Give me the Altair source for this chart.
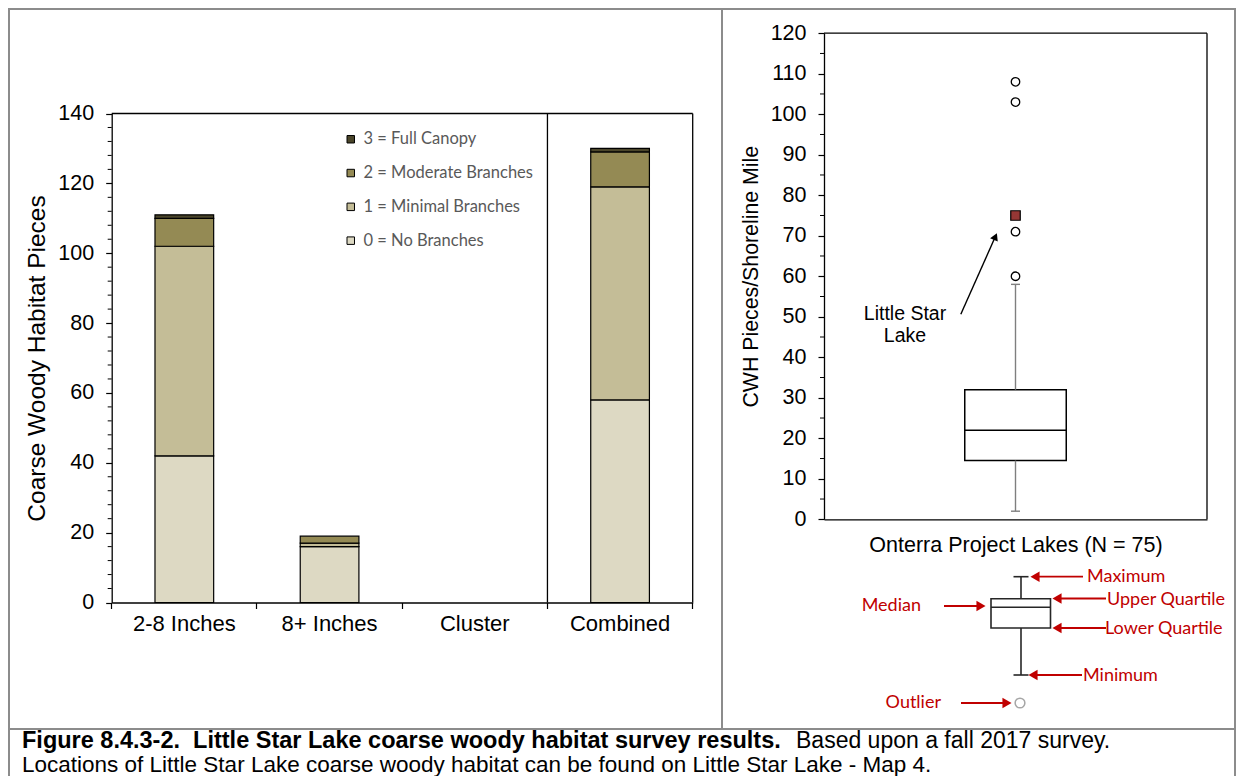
import altair as alt
import pandas as pd

# ---------------- data ----------------
categories = ["2-8 Inches", "8+ Inches", "Cluster", "Combined"]
level_names = ["0 = No Branches", "1 = Minimal Branches", "2 = Moderate Branches", "3 = Full Canopy"]
no_branches = [42, 16, 0, 58]
minimal_branches = [60, 1, 0, 61]
moderate_branches = [8, 2, 0, 10]
full_canopy = [1, 0, 0, 1]
level_colors = ["#ddd9c3", "#c4bd97", "#948a54", "#4a452a"]
left_y_ticks = [0, 20, 40, 60, 80, 100, 120, 140]

lake_group = "Onterra Project Lakes (N = 75)"
box_min = [2]
box_q1 = [14.5]
box_median = [22]
box_q3 = [32]
box_max = [58]
outlier_values = [60, 71, 103, 108]
little_star_value = [75]
right_y_ticks = [0, 10, 20, 30, 40, 50, 60, 70, 80, 90, 100, 110, 120]

key_labels_right = ["Maximum", "Upper Quartile", "Lower Quartile", "Minimum"]
key_labels_left = ["Median", "Outlier"]
caption_bold = "Figure 8.4.3-2.\u00a0 Little Star Lake coarse woody habitat survey results."
caption_rest = "Based upon a fall 2017 survey."
caption_line2 = "Locations of Little Star Lake coarse woody habitat can be found on Little Star Lake - Map 4."

# ---------------- layout ----------------
OFF = 8.0


def P(v):
    return v - OFF


W, H = 1228, 768
FONT = "Liberation Sans"
CAL = "Lato"
RED = "#c00000"
GRAY = "#7f7f7f"

L_X0, L_X1 = P(111.7), P(692.7)
L_Y0, L_Y1 = P(602.5), P(113.5)
R_X0, R_X1 = P(824.0), P(1207.0)
R_Y0, R_Y1 = P(519.3), P(33.2)
BOX_FRAC = 101.5 / (R_X1 - R_X0)

one = pd.DataFrame({"a": [0]})


def xL():
    return alt.Scale(domain=categories, range=[L_X0, L_X1], paddingInner=0, paddingOuter=0)


def yL():
    return alt.Scale(domain=[0, 140], range=[L_Y0, L_Y1], nice=False, zero=True)


def xR():
    return alt.Scale(domain=[lake_group], range=[R_X0, R_X1], paddingInner=0, paddingOuter=0)


def yR():
    return alt.Scale(domain=[0, 120], range=[R_Y0, R_Y1], nice=False, zero=True)


# ---------------- left panel ----------------
rows = []
for idx, (name, series) in enumerate(zip(level_names, [no_branches, minimal_branches, moderate_branches, full_canopy])):
    for cat, v in zip(categories, series):
        rows.append({"category": cat, "level": name, "lvl": idx, "value": v})
bar_df = pd.DataFrame(rows)

axL_x = alt.Axis(orient="bottom", offset=-(H - L_Y0), title=None, bandPosition=1, tickExtra=True,
                 tickSize=6, tickColor="black", tickWidth=1.2, domainColor="black", domainWidth=1.3,
                 labelFont=FONT, labelFontSize=22, labelColor="black", labelPadding=5, labelAngle=0,
                 grid=False)
axL_y = alt.Axis(orient="left", offset=-L_X0, values=left_y_ticks, tickSize=6, tickColor="black",
                 tickWidth=1.2, domainColor="black", domainWidth=1.3, grid=False,
                 labelFont=FONT, labelFontSize=21.5, labelColor="black", labelPadding=12,
                 title="Coarse Woody Habitat Pieces", titleFont=FONT, titleFontSize=24.5,
                 titleFontWeight="normal", titleColor="black", titleAngle=270,
                 titleX=P(37) - L_X0, titleY=(L_Y0 + L_Y1) / 2, titleBaseline="middle",
                 titleAlign="center")

legend_domain = list(reversed(level_names))
legend_range = list(reversed(level_colors))

bars = alt.Chart(bar_df).transform_filter("datum.value > 0").mark_bar(
    stroke="black", strokeWidth=1.2, width={"band": 0.404}
).encode(
    x=alt.X("category:N", sort=categories, scale=xL(), axis=axL_x),
    y=alt.Y("value:Q", stack="zero", scale=yL(), axis=axL_y),
    color=alt.Color("level:N", scale=alt.Scale(domain=legend_domain, range=legend_range),
                    legend=alt.Legend(orient="none", legendX=P(342.5), legendY=P(131), title=None,
                                      direction="vertical", symbolType="square", symbolSize=56,
                                      symbolStrokeColor="black", symbolStrokeWidth=1,
                                      labelFont=CAL, labelFontSize=16.5, labelColor="#595959",
                                      labelOffset=4.5, labelLimit=400, rowPadding=16.8, padding=0)),
    order=alt.Order("lvl:Q", sort="ascending"),
)

div_df = pd.DataFrame({"category": ["Combined"], "lo": [0], "hi": [140]})
divider = alt.Chart(div_df).mark_rule(color="black", strokeWidth=1.3).encode(
    x=alt.X("category:N", sort=categories, bandPosition=0, scale=xL(), axis=None),
    y=alt.Y("lo:Q", scale=yL(), axis=None),
    y2="hi:Q",
)

minor_left = pd.DataFrame({"v": [v for v in range(0, 141, 4) if v % 20]})
minor_l = alt.Chart(minor_left).mark_rule(color="black", strokeWidth=1).encode(
    x=alt.value(L_X0 - 4), x2=alt.value(L_X0),
    y=alt.Y("v:Q", scale=yL(), axis=None),
)

frame_l_top = alt.Chart(one).mark_rule(color="black", strokeWidth=1.3).encode(
    x=alt.value(L_X0), x2=alt.value(L_X1), y=alt.value(L_Y1))
frame_l_right = alt.Chart(one).mark_rule(color="black", strokeWidth=1.3).encode(
    x=alt.value(L_X1), y=alt.value(L_Y1), y2=alt.value(L_Y0))

# ---------------- right panel ----------------
box_df = pd.DataFrame({"group": [lake_group], "min": box_min, "q1": box_q1, "median": box_median,
                       "q3": box_q3, "max": box_max})
out_df = pd.DataFrame({"group": [lake_group] * len(outlier_values), "value": outlier_values})
ls_df = pd.DataFrame({"group": [lake_group], "value": little_star_value})

axR_x = alt.Axis(orient="bottom", offset=-(H - R_Y0), labels=False, ticks=False, domainColor="black",
                 domainWidth=1.3, title=lake_group, titleFont=FONT, titleFontSize=21.5, grid=False,
                 titleFontWeight="normal", titleColor="black", titleX=(R_X0 + R_X1) / 2, titleY=26,
                 titleBaseline="middle", titleAlign="center")
axR_y = alt.Axis(orient="left", offset=-R_X0, values=right_y_ticks, tickSize=6, tickColor="black",
                 tickWidth=1.2, domainColor="black", domainWidth=1.3, grid=False,
                 labelFont=FONT, labelFontSize=21.5, labelColor="black", labelPadding=12,
                 title="CWH Pieces/Shoreline Mile", titleFont=FONT, titleFontSize=21.3,
                 titleFontWeight="normal", titleColor="black", titleAngle=270,
                 titleX=P(751) - R_X0, titleY=(R_Y0 + R_Y1) / 2, titleBaseline="middle",
                 titleAlign="center")


def xg():
    return alt.X("group:N", scale=xR(), axis=None)


box = alt.Chart(box_df).mark_bar(fill="white", stroke="black", strokeWidth=1.5,
                                 width={"band": BOX_FRAC}).encode(
    x=alt.X("group:N", scale=xR(), axis=axR_x),
    y=alt.Y("q1:Q", scale=yR(), axis=axR_y), y2="q3:Q")
whisk_hi = alt.Chart(box_df).mark_rule(color=GRAY, strokeWidth=1.4).encode(
    x=xg(), y=alt.Y("q3:Q", scale=yR(), axis=None), y2="max:Q")
whisk_lo = alt.Chart(box_df).mark_rule(color=GRAY, strokeWidth=1.4).encode(
    x=xg(), y=alt.Y("min:Q", scale=yR(), axis=None), y2="q1:Q")
cap_hi = alt.Chart(box_df).mark_tick(color=GRAY, size=9, thickness=1.4, opacity=1).encode(
    x=xg(), y=alt.Y("max:Q", scale=yR(), axis=None))
cap_lo = alt.Chart(box_df).mark_tick(color=GRAY, size=9, thickness=1.4, opacity=1).encode(
    x=xg(), y=alt.Y("min:Q", scale=yR(), axis=None))
median = alt.Chart(box_df).mark_bar(fillOpacity=0, stroke="black", strokeWidth=1.5,
                                    width={"band": BOX_FRAC}).encode(
    x=xg(), y=alt.Y("median:Q", scale=yR(), axis=None), y2="median:Q")
outs = alt.Chart(out_df).mark_point(shape="circle", filled=True, fill="white", stroke="black",
                                    strokeWidth=1.3, size=72, opacity=1).encode(
    x=xg(), y=alt.Y("value:Q", scale=yR(), axis=None))
star = alt.Chart(ls_df).mark_point(shape="square", filled=True, fill="#953735", stroke="black",
                                   strokeWidth=1.2, size=90, opacity=1).encode(
    x=xg(), y=alt.Y("value:Q", scale=yR(), axis=None))

arrow = alt.Chart(one).mark_rule(color="black", strokeWidth=1.4).encode(
    x=alt.value(P(960.8)), x2=alt.value(P(995.4)),
    y=alt.YDatum(50.6, type="quantitative", scale=yR(), axis=None),
    y2=alt.Y2Datum(69.8))
arrow_head = alt.Chart(one).mark_point(shape="triangle-up", filled=True, color="black", size=70,
                                       angle=24, opacity=1).encode(
    x=alt.value(P(995.4)),
    y=alt.YDatum(69.8, type="quantitative", scale=yR(), axis=None))
arrow_text = alt.Chart(one).mark_text(text=["Little Star", "Lake"], font=FONT, fontSize=19.5,
                                      lineHeight=21.5, align="center", baseline="middle",
                                      color="black").encode(
    x=alt.value(P(905)),
    y=alt.YDatum(50.6, type="quantitative", scale=yR(), axis=None))

minor_right = pd.DataFrame({"v": [v for v in range(5, 120, 10)]})
minor_r = alt.Chart(minor_right).mark_rule(color="black", strokeWidth=1).encode(
    x=alt.value(R_X0 - 4), x2=alt.value(R_X0),
    y=alt.Y("v:Q", scale=yR(), axis=None))

frame_r_top = alt.Chart(one).mark_rule(color="black", strokeWidth=1.3).encode(
    x=alt.value(R_X0), x2=alt.value(R_X1), y=alt.value(R_Y1))
frame_r_right = alt.Chart(one).mark_rule(color="black", strokeWidth=1.3).encode(
    x=alt.value(R_X1), y=alt.value(R_Y1), y2=alt.value(R_Y0))

# ---------------- schematic key (layout only) ----------------
key_lines = pd.DataFrame([
    {"x": 1021, "x2": 1021, "y": 576.7, "y2": 598.7},
    {"x": 1021, "x2": 1021, "y": 628.0, "y2": 675.0},
    {"x": 1013.5, "x2": 1028.5, "y": 576.7, "y2": 576.7},
    {"x": 1013.5, "x2": 1028.5, "y": 675.0, "y2": 675.0},
    {"x": 991, "x2": 1050.5, "y": 607.3, "y2": 607.3},
])
for c in ["x", "x2", "y", "y2"]:
    key_lines[c] = key_lines[c] - OFF
key_l = alt.Chart(key_lines).mark_rule(color="#262626", strokeWidth=1.6).encode(
    x=alt.X("x:Q", scale=None, axis=None), x2="x2:Q",
    y=alt.Y("y:Q", scale=None, axis=None), y2="y2:Q")
key_box = alt.Chart(one).mark_rect(fill="white", fillOpacity=0, stroke="#262626", strokeWidth=1.6).encode(
    x=alt.value(P(991)), x2=alt.value(P(1050.5)), y=alt.value(P(598.7)), y2=alt.value(P(628)))
key_out = alt.Chart(one).mark_point(shape="circle", filled=False, stroke="#a6a6a6", strokeWidth=1.5,
                                    size=95, opacity=1).encode(
    x=alt.value(P(1020)), y=alt.value(P(703)))

arrows = pd.DataFrame([
    {"x": 1034.0, "x2": 1083.0, "y": 576.7},
    {"x": 1056.0, "x2": 1106.0, "y": 598.5},
    {"x": 1056.0, "x2": 1106.0, "y": 628.0},
    {"x": 1032.0, "x2": 1082.0, "y": 675.0},
    {"x": 944.0, "x2": 981.0, "y": 606.0},
    {"x": 961.0, "x2": 1007.0, "y": 703.0},
])
for c in ["x", "x2", "y"]:
    arrows[c] = arrows[c] - OFF
key_arrows = alt.Chart(arrows).mark_rule(color=RED, strokeWidth=1.8).encode(
    x=alt.X("x:Q", scale=None, axis=None), x2="x2:Q", y=alt.Y("y:Q", scale=None, axis=None))

heads_left = pd.DataFrame([
    {"x": 1035.0, "y": 576.7}, {"x": 1057.0, "y": 598.5},
    {"x": 1057.0, "y": 628.0}, {"x": 1033.0, "y": 675.0},
])
heads_right = pd.DataFrame([{"x": 981.0, "y": 606.0}, {"x": 1007.0, "y": 703.0}])
for d in (heads_left, heads_right):
    d["x"] = d["x"] - OFF
    d["y"] = d["y"] - OFF
hl = alt.Chart(heads_left).mark_point(shape="triangle-left", filled=True, color=RED, size=110,
                                      opacity=1).encode(
    x=alt.X("x:Q", scale=None, axis=None), y=alt.Y("y:Q", scale=None, axis=None))
hr = alt.Chart(heads_right).mark_point(shape="triangle-right", filled=True, color=RED, size=110,
                                       opacity=1).encode(
    x=alt.X("x:Q", scale=None, axis=None), y=alt.Y("y:Q", scale=None, axis=None))

lab_r = pd.DataFrame({"label": key_labels_right, "x": [1087.0, 1107.0, 1105.0, 1083.0],
                      "y": [577.0, 600.0, 628.5, 676.0]})
lab_l = pd.DataFrame({"label": key_labels_left, "x": [921.0, 941.0], "y": [605.5, 703.0]})
for d in (lab_r, lab_l):
    d["x"] = d["x"] - OFF
    d["y"] = d["y"] - OFF
kt_r = alt.Chart(lab_r).mark_text(font=CAL, fontSize=18, color=RED, align="left",
                                  baseline="middle").encode(
    x=alt.X("x:Q", scale=None, axis=None), y=alt.Y("y:Q", scale=None, axis=None), text="label:N")
kt_l = alt.Chart(lab_l).mark_text(font=CAL, fontSize=18, color=RED, align="right",
                                  baseline="middle").encode(
    x=alt.X("x:Q", scale=None, axis=None), y=alt.Y("y:Q", scale=None, axis=None), text="label:N")

# ---------------- frame & caption ----------------
FR = "#8c8c8c"
fr_top = alt.Chart(one).mark_rule(color=FR, strokeWidth=2).encode(
    x=alt.value(0), x2=alt.value(W), y=alt.value(1))
fr_left = alt.Chart(one).mark_rule(color=FR, strokeWidth=2).encode(
    x=alt.value(1), y=alt.value(0), y2=alt.value(H))
fr_right = alt.Chart(one).mark_rule(color=FR, strokeWidth=2).encode(
    x=alt.value(W - 1), y=alt.value(0), y2=alt.value(H))
fr_mid = alt.Chart(one).mark_rule(color=FR, strokeWidth=2).encode(
    x=alt.value(P(722)), y=alt.value(0), y2=alt.value(P(729)))
fr_bot = alt.Chart(one).mark_rule(color=FR, strokeWidth=2).encode(
    x=alt.value(0), x2=alt.value(W), y=alt.value(P(729)))

cap1 = alt.Chart(one).mark_text(text=caption_bold, font=FONT, fontSize=23.5, fontWeight="bold",
                                align="left", baseline="alphabetic", color="black").encode(
    x=alt.value(P(22)), y=alt.value(P(748)))
cap2 = alt.Chart(one).mark_text(text=caption_rest, font=FONT, fontSize=23, align="left",
                                baseline="alphabetic", color="black").encode(
    x=alt.value(P(796)), y=alt.value(P(748)))
cap3 = alt.Chart(one).mark_text(text=caption_line2, font=FONT, fontSize=22.5, align="left",
                                baseline="alphabetic", color="black").encode(
    x=alt.value(P(22)), y=alt.value(P(771.5)))

chart = alt.layer(
    bars, box,
    divider, minor_l, frame_l_top, frame_l_right,
    whisk_hi, whisk_lo, cap_hi, cap_lo, median, outs, star,
    arrow, arrow_head, arrow_text, minor_r, frame_r_top, frame_r_right,
    key_l, key_box, key_out, key_arrows, hl, hr, kt_r, kt_l,
    fr_top, fr_left, fr_right, fr_mid, fr_bot, cap1, cap2, cap3,
).resolve_scale(
    x="independent", y="independent"
).properties(
    width=W, height=H, padding=0, autosize=alt.AutoSizeParams(type="none")
).configure(background="white").configure_view(stroke=None)

chart.save("out.html", embed_options={"renderer": "svg", "actions": False})
